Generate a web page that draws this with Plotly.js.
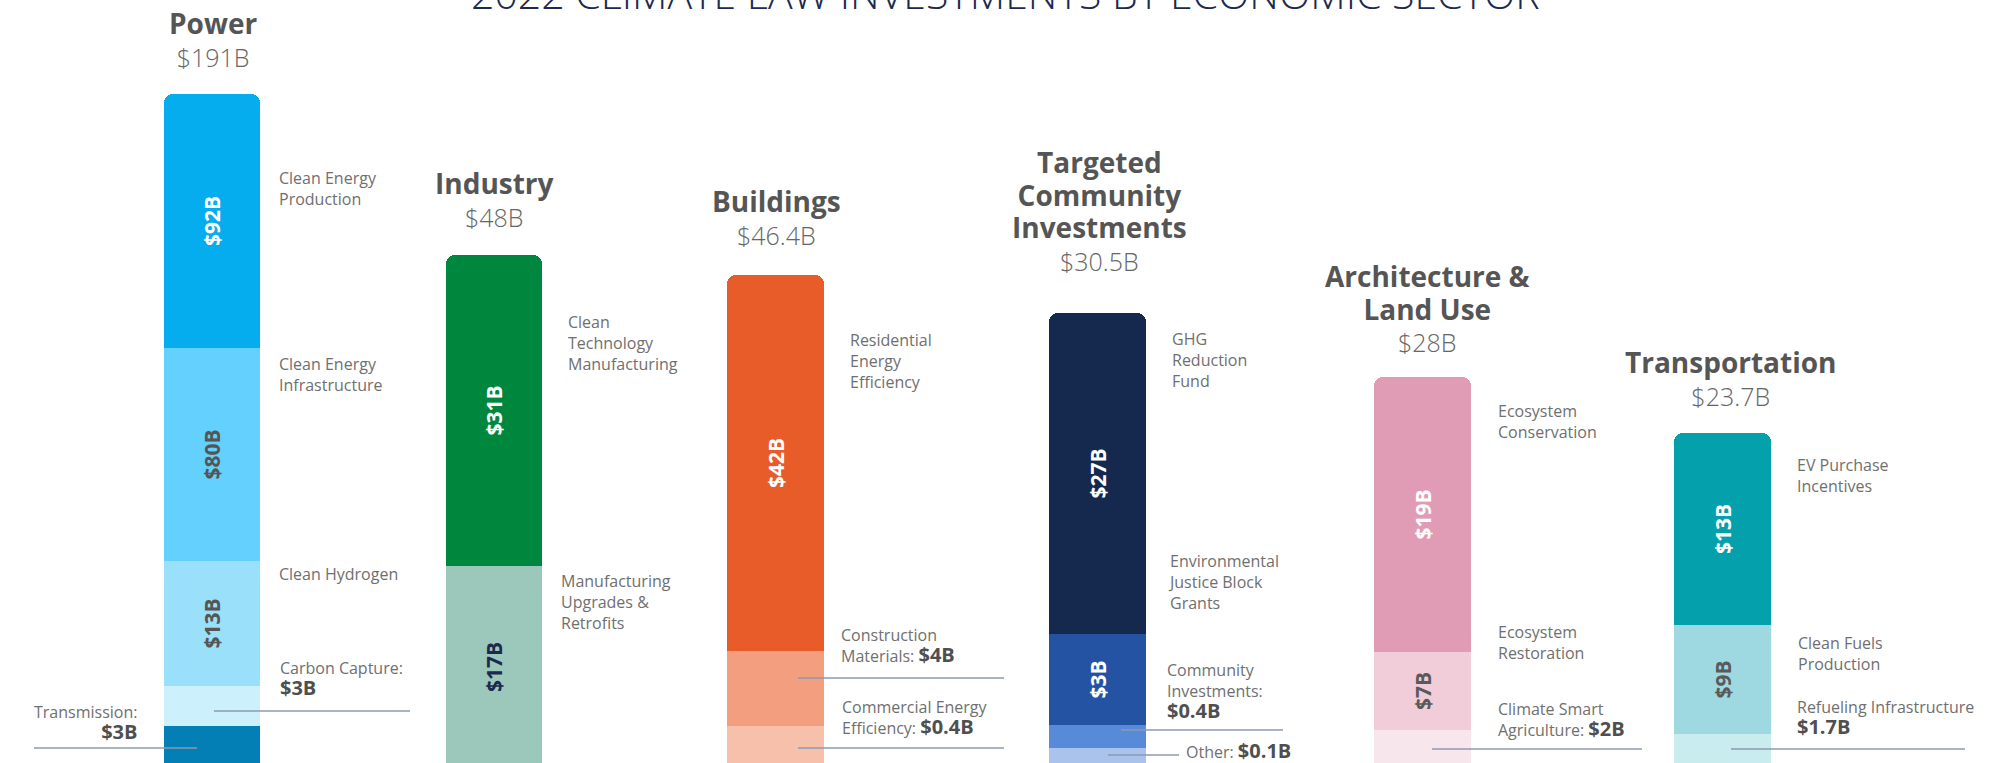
<!DOCTYPE html>
<html><head><meta charset="utf-8">
<script src="https://cdn.plot.ly/plotly-3.0.1.min.js"></script>
<style>html,body{margin:0;padding:0;background:#fff;overflow:hidden}#chart{width:1992px;height:763px}</style>
</head><body><div id="chart"></div>
<script>
// ---------------- DATA ----------------
const chartTitle = '2022 CLIMATE LAW INVESTMENTS BY ECONOMIC SECTOR';
const sectorNames = ['Power', 'Industry', 'Buildings', 'Targeted\nCommunity\nInvestments', 'Architecture &\nLand Use', 'Transportation'];
const sectorTotals = [191, 48, 46.4, 30.5, 28, 23.7];

// segments listed bottom -> top; values in $B; heights = drawn (schematic, not to scale) bar lengths
const powerItems = ['Transmission', 'Carbon Capture', 'Clean Hydrogen', 'Clean Energy\nInfrastructure', 'Clean Energy\nProduction'];
const powerValues = [3, 3, 13, 80, 92];
const powerHeights = [42, 40, 125, 213, 254];

const industryItems = ['Manufacturing\nUpgrades &\nRetrofits', 'Clean\nTechnology\nManufacturing'];
const industryValues = [17, 31];
const industryHeights = [202, 311];

const buildingsItems = ['Commercial Energy\nEfficiency', 'Construction\nMaterials', 'Residential\nEnergy\nEfficiency'];
const buildingsValues = [0.4, 4, 42];
const buildingsHeights = [42, 75, 376];

const communityItems = ['Other', 'Community\nInvestments', 'Environmental\nJustice Block\nGrants', 'GHG\nReduction\nFund'];
const communityValues = [0.1, 0.4, 3, 27];
const communityHeights = [20, 23, 91, 321];

const landItems = ['Climate Smart\nAgriculture', 'Ecosystem\nRestoration', 'Ecosystem\nConservation'];
const landValues = [2, 7, 19];
const landHeights = [38, 78, 275];

const transportItems = ['Refueling Infrastructure', 'Clean Fuels\nProduction', 'EV Purchase\nIncentives'];
const transportValues = [1.7, 9, 13];
const transportHeights = [34, 109, 192];

const sectorData = [
  {items: powerItems, values: powerValues, heights: powerHeights},
  {items: industryItems, values: industryValues, heights: industryHeights},
  {items: buildingsItems, values: buildingsValues, heights: buildingsHeights},
  {items: communityItems, values: communityValues, heights: communityHeights},
  {items: landItems, values: landValues, heights: landHeights},
  {items: transportItems, values: transportValues, heights: transportHeights}
];

// ---------------- STYLE / LAYOUT ----------------
const W = 1992, H = 763;
const fx = x => x / W;
const fy = y => 1 - y / H;
const mean = a => a.reduce((s, v) => s + v, 0) / a.length;
const FONT = '"Open Sans", "Noto Sans", sans-serif';
const fmt = v => '$' + v + 'B';

const sectorColors = [
  ['#047fb5', '#cdf0fd', '#9ae0fb', '#64d0fd', '#05adef'],
  ['#9cc8bb', '#00873e'],
  ['#f6c0aa', '#f29e7f', '#e85c2a'],
  ['#a9c3ec', '#578ad8', '#2553a3', '#15284e'],
  ['#f8e6ed', '#f0cdd9', '#e09cb5'],
  ['#c9ecef', '#9ed9e1', '#04a1ad']
];
const insideTextColors = [
  [null, null, '#555555', '#555555', '#ffffff'],
  ['#1b2a4e', '#ffffff'],
  [null, null, '#ffffff'],
  [null, null, '#ffffff', '#ffffff'],
  [null, '#5a5a5a', '#ffffff'],
  [null, '#5a5a5a', '#ffffff']
];
const barEdges = [[164, 260], [446, 542], [727, 824], [1049, 1146], [1374, 1471], [1674, 1771]];

const traces = [];
const layout = {
  width: W, height: H,
  margin: {l: 0, r: 0, t: 0, b: 0},
  paper_bgcolor: '#ffffff', plot_bgcolor: 'rgba(0,0,0,0)',
  barmode: 'stack', bargap: 0,
  barcornerradius: 9,
  showlegend: false,
  font: {family: FONT},
  yaxis: {range: [5, 768], domain: [0, 1], visible: false, fixedrange: true, anchor: 'x'},
  annotations: [], shapes: []
};

sectorData.forEach((sd, k) => {
  const ax = k === 0 ? 'x' : 'x' + (k + 1);
  const axKey = k === 0 ? 'xaxis' : 'xaxis' + (k + 1);
  layout[axKey] = {
    domain: [fx(barEdges[k][0]), fx(barEdges[k][1])],
    range: [-0.5, 0.5], type: 'category', visible: false, fixedrange: true, anchor: 'y'
  };
  const cat = sectorNames[k].replace(/\n/g, ' ');
  sd.items.forEach((name, i) => {
    const tc = insideTextColors[k][i];
    traces.push({
      type: 'bar', x: [cat], y: [sd.heights[i]], width: 1,
      xaxis: ax, yaxis: 'y',
      name: name.replace(/\n/g, ' '),
      marker: {color: sectorColors[k][i], line: {width: 0}},
      text: [tc ? fmt(sd.values[i]) : ''],
      textposition: 'inside', insidetextanchor: 'middle', textangle: -90,
      constraintext: 'none',
      textfont: {family: FONT, size: 21, weight: 700, color: tc || '#ffffff'},
      hoverinfo: 'skip'
    });
  });
});

// Chart title
layout.annotations.push({
  text: chartTitle, x: fx(1006), y: fy(23), xref: 'paper', yref: 'paper',
  xanchor: 'center', yanchor: 'bottom', showarrow: false,
  font: {family: FONT, size: 41, weight: 300, color: '#1b2a4e'}
});

// Sector titles + totals (one block per sector)
const titleSpecs = [
  {x: 213, ys: [22.5, 54.5]},
  {x: 494, ys: [182.5, 214.5]},
  {x: 776, ys: [201, 233.5]},
  {x: 1099, ys: [159, 192.5, 227.5, 261.5]},
  {x: 1427, ys: [273.5, 308, 342]},
  {x: 1730, ys: [361.5, 394]}
];
titleSpecs.forEach((t, k) => {
  const lines = sectorNames[k].split('\n').map(l => '<span style="font-size:28px;color:#555555"><b>' + l + '</b></span>');
  lines.push(fmt(sectorTotals[k]));
  layout.annotations.push({
    text: lines.join('<br>'), x: fx(t.x), y: fy(mean(t.ys)), xref: 'paper', yref: 'paper',
    xanchor: 'center', yanchor: 'middle', showarrow: false, align: 'center',
    font: {family: FONT, size: 25, weight: 300, color: '#666666'}
  });
});

// Segment labels to the side of the bars
const labelSpecs = [
  {s: 0, i: 4, x: 280, ys: [179, 197]},
  {s: 0, i: 3, x: 280, ys: [365, 384]},
  {s: 0, i: 2, x: 280, ys: [574]},
  {s: 0, i: 1, x: 281, ys: [668, 690], value: 'newline'},
  {s: 0, i: 0, x: 137, ys: [712, 734], value: 'newline', align: 'right'},
  {s: 1, i: 1, x: 569, ys: [324, 343, 363]},
  {s: 1, i: 0, x: 562, ys: [583, 601, 623]},
  {s: 2, i: 2, x: 851, ys: [342, 361, 381]},
  {s: 2, i: 1, x: 842, ys: [635, 657], value: 'inline'},
  {s: 2, i: 0, x: 843, ys: [707, 729], value: 'inline'},
  {s: 3, i: 3, x: 1173, ys: [339, 361, 381]},
  {s: 3, i: 2, x: 1169, ys: [563, 581, 603]},
  {s: 3, i: 1, x: 1168, ys: [672, 690, 711], value: 'newline'},
  {s: 3, i: 0, x: 1187, ys: [750], value: 'inline'},
  {s: 4, i: 2, x: 1499, ys: [412, 431]},
  {s: 4, i: 1, x: 1499, ys: [633, 651]},
  {s: 4, i: 0, x: 1499, ys: [709, 731], value: 'inline'},
  {s: 5, i: 2, x: 1798, ys: [466, 484]},
  {s: 5, i: 1, x: 1799, ys: [644, 663]},
  {s: 5, i: 0, x: 1798, ys: [708, 728], value: 'newline', colon: false}
];
const LABEL_COLOR = '#6f6f6f', VALUE_COLOR = '#4f4f4f';
const bigVal = v => '<span style="font-size:20px;color:' + VALUE_COLOR + '"><b>' + v + '</b></span>';
labelSpecs.forEach(sp => {
  const sd = sectorData[sp.s];
  const lines = sd.items[sp.i].split('\n');
  const val = fmt(sd.values[sp.i]);
  if (sp.value === 'inline') {
    lines[lines.length - 1] += ': ' + bigVal(val);
  } else if (sp.value === 'newline') {
    if (sp.colon !== false) lines[lines.length - 1] += ':';
    lines.push(bigVal(val));
  }
  const right = sp.align === 'right';
  layout.annotations.push({
    text: lines.join('<br>'), x: fx(right ? sp.x + 2 : sp.x - 3), y: fy(mean(sp.ys)), xref: 'paper', yref: 'paper',
    xanchor: right ? 'right' : 'left', yanchor: 'middle', align: right ? 'right' : 'left', showarrow: false,
    font: {family: FONT, size: 16, color: LABEL_COLOR}
  });
});

// Leader lines
const leaderLines = [[214, 410, 711], [34, 197, 748], [798, 1004, 678], [798, 1004, 748],
  [1121, 1283, 730], [1108, 1179, 755], [1432, 1642, 749], [1731, 1965, 749]];
leaderLines.forEach(l => {
  layout.shapes.push({
    type: 'line', xref: 'paper', yref: 'paper', layer: 'above',
    x0: fx(l[0]), x1: fx(l[1]), y0: fy(l[2]), y1: fy(l[2]),
    line: {color: '#8d9ab2', width: 1.5}
  });
});

Plotly.newPlot('chart', traces, layout, {displayModeBar: false, staticPlot: true});
</script>
</body></html>
